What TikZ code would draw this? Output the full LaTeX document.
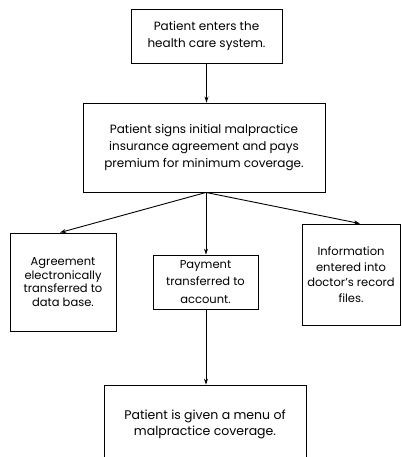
\documentclass[tikz,border=0pt]{standalone}
\usepackage{fontspec}
\setmainfont{Poppins}
\usetikzlibrary{arrows.meta,calc}
\begin{document}
\begin{tikzpicture}[x=1pt,y=-1pt,
  box/.style={draw,line width=0.9pt,rectangle,align=center,inner sep=0pt,font=\fontsize{12}{17}\selectfont},
  smallbox/.style={box,font=\fontsize{11.5}{13.5}\selectfont},
  arr/.style={-{Stealth[length=6pt,width=4pt]},line width=0.9pt}]
\useasboundingbox (0,0) rectangle (401,457);
\clip (0,0) rectangle (401,457);
\node[box,minimum width=151pt,minimum height=54pt] (b1) at (206.5,36) {Patient enters the\\health care system.};
\node[box,minimum width=242pt,minimum height=89pt] (b2) at (204,147.5) {Patient signs initial malpractice\\insurance agreement and pays\\premium for minimum coverage.};
\node[smallbox,minimum width=106pt,minimum height=98pt] (bl) at (63,282) {Agreement\\electronically\\transferred to\\data base.};
\node[smallbox,font=\fontsize{11.5}{17.5}\selectfont,minimum width=105pt,minimum height=54pt] (bm) at (205.5,282) {Payment\\transferred to\\account.};
\node[smallbox,font=\fontsize{11.5}{15.5}\selectfont,minimum width=98pt,minimum height=101pt] (br) at (351,274.5) {Information\\entered into\\doctor's record\\files.};
\node[box,font=\fontsize{12.5}{16}\selectfont,minimum width=202pt,minimum height=90pt] (bb) at (205,430) {Patient is given a menu of\\malpractice coverage.\\[-2pt]};
\coordinate (fork) at ($(b2.south)+(2,0)$);
\draw[arr] (b1.south) -- (b1.south |- b2.north);
\draw[arr] (fork) -- ($(bl.north)+(-3,0)$);
\draw[arr] (fork) -- (fork |- bm.north);
\draw[arr] (fork) -- ($(br.north)+(9,0)$);
\draw[arr] (fork |- bm.south) -- (fork |- bb.north);
\end{tikzpicture}
\end{document}
